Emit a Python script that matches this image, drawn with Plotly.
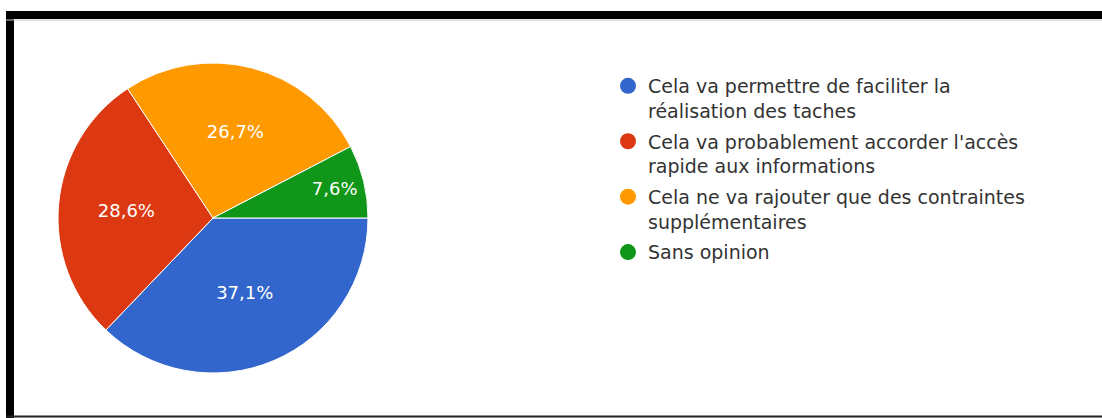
import plotly.graph_objects as go

labels = [
    "Cela va permettre de faciliter la<br>réalisation des taches",
    "Cela va probablement accorder l'accès<br>rapide aux informations",
    "Cela ne va rajouter que des contraintes<br>supplémentaires",
    "Sans opinion",
]
counts = [39, 30, 28, 8]
colors = ["#3366cc", "#dc3912", "#ff9900", "#109618"]

W, H = 1102, 418

fig = go.Figure()
fig.add_trace(go.Pie(
    labels=labels, values=counts, sort=False, direction="clockwise", rotation=90,
    marker=dict(colors=colors, line=dict(color="white", width=1)),
    textinfo="percent", texttemplate="%{percent:.1%}", textposition="inside",
    insidetextorientation="horizontal",
    textfont=dict(color="white", size=18, family="DejaVu Sans"),
    domain=dict(x=[58 / W, 368 / W], y=[(H - 373) / H, (H - 63) / H]),
    showlegend=False, hoverinfo="label+percent",
))
for i, (lab, col) in enumerate(zip(labels, colors)):
    fig.add_trace(go.Scatter(
        x=[None], y=[None], mode="markers", name=lab, legendgroup=f"g{i}",
        marker=dict(color=col, size=16, symbol="circle"),
    ))

# frame
shapes = [
    dict(type="rect", xref="paper", yref="paper", x0=6 / W, x1=1, y0=(H - 19) / H, y1=(H - 11) / H,
         fillcolor="black", line=dict(width=0)),
    dict(type="rect", xref="paper", yref="paper", x0=6 / W, x1=14 / W, y0=0, y1=(H - 11) / H,
         fillcolor="black", line=dict(width=0)),
    dict(type="line", xref="paper", yref="paper", x0=6 / W, x1=1, y0=(H - 20) / H, y1=(H - 20) / H,
         line=dict(color="#c8c8c8", width=1)),
    dict(type="line", xref="paper", yref="paper", x0=6 / W, x1=1, y0=1.5 / H, y1=1.5 / H,
         line=dict(color="#222", width=2)),
]

fig.update_layout(
    width=W, height=H, margin=dict(l=0, r=0, t=0, b=0),
    paper_bgcolor="white", plot_bgcolor="white",
    separators=", ",
    xaxis=dict(visible=False), yaxis=dict(visible=False),
    shapes=shapes,
    legend=dict(x=608 / W, y=(H - 67) / H, xanchor="left", yanchor="top",
                font=dict(size=19, color="#333", family="DejaVu Sans"),
                valign="top", tracegroupgap=3, bgcolor="rgba(0,0,0,0)"),
)
fig.write_html("out.html")
